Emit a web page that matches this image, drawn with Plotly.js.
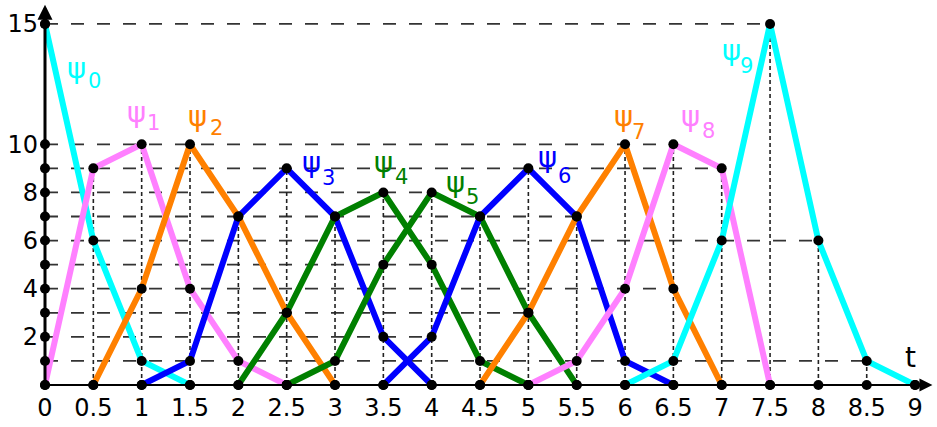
<!DOCTYPE html>
<html>
<head>
<meta charset="utf-8">
<script src="https://cdn.plot.ly/plotly-3.0.1.min.js"></script>
<style>
html,body{margin:0;padding:0;background:#fff;}
#chart{width:937px;height:427px;}
</style>
</head>
<body>
<div id="chart"></div>
<script>
// ---- data ----
const psi0X = [0, 0.5, 1, 1.5];
const psi0Y = [15, 6, 1, 0];
const psi1X = [0, 0.5, 1, 1.5, 2, 2.5];
const psi1Y = [0, 9, 10, 4, 1, 0];
const psi2X = [0.5, 1, 1.5, 2, 2.5, 3];
const psi2Y = [0, 4, 10, 7, 3, 0];
const psi3X = [1, 1.5, 2, 2.5, 3, 3.5, 4];
const psi3Y = [0, 1, 7, 9, 7, 2, 0];
const psi4X = [2, 2.5, 3, 3.5, 4, 4.5, 5];
const psi4Y = [0, 3, 7, 8, 5, 1, 0];
const psi5X = [2.5, 3, 3.5, 4, 4.5, 5, 5.5];
const psi5Y = [0, 1, 5, 8, 7, 3, 0];
const psi6X = [3.5, 4, 4.5, 5, 5.5, 6, 6.5];
const psi6Y = [0, 2, 7, 9, 7, 1, 0];
const psi7X = [4.5, 5, 5.5, 6, 6.5, 7];
const psi7Y = [0, 3, 7, 10, 4, 0];
const psi8X = [5, 5.5, 6, 6.5, 7, 7.5];
const psi8Y = [0, 1, 4, 10, 9, 0];
const psi9X = [6, 6.5, 7, 7.5, 8, 8.5, 9];
const psi9Y = [0, 1, 6, 15, 6, 1, 0];

const seriesNames = ['ψ0','ψ1','ψ2','ψ3','ψ4','ψ5','ψ6','ψ7','ψ8','ψ9'];
const subscripts = ['0','1','2','3','4','5','6','7','8','9'];

const xTickVals = [0, 0.5, 1, 1.5, 2, 2.5, 3, 3.5, 4, 4.5, 5, 5.5, 6, 6.5, 7, 7.5, 8, 8.5, 9];
const xTickText = ['0','0.5','1','1.5','2','2.5','3','3.5','4','4.5','5','5.5','6','6.5','7','7.5','8','8.5','9'];
const yTickVals = [2, 4, 6, 8, 10, 15];
const yTickText = ['2','4','6','8','10','15'];

// ---- styles / layout config ----
const colors = ['#00ffff','#ff80ff','#ff8000','#0000ff','#008000','#008000','#0000ff','#ff8000','#ff80ff','#00ffff'];
// label placement (psi glyph centre, subscript centre) in data units
const labelAt = [
  [0.33,13.17, 0.51,12.63],
  [0.95,11.34, 1.12,10.88],
  [1.58,11.18, 1.77,10.68],
  [2.76,9.26, 2.93,8.60],
  [3.50,9.26, 3.69,8.64],
  [4.25,8.43, 4.42,7.79],
  [5.20,9.47, 5.37,8.70],
  [5.98,11.18, 6.14,10.53],
  [6.68,11.18, 6.86,10.57],
  [7.10,13.92, 7.26,13.27]
];

const X = [psi0X,psi1X,psi2X,psi3X,psi4X,psi5X,psi6X,psi7X,psi8X,psi9X];
const Y = [psi0Y,psi1Y,psi2Y,psi3Y,psi4Y,psi5Y,psi6Y,psi7Y,psi8Y,psi9Y];

// reference lines derived from the data points
const pts = [];
X.forEach((xs, k) => xs.forEach((x, i) => pts.push([x, Y[k][i]])));
const yLevels = [...new Set(pts.map(p => p[1]).filter(v => v > 0))].sort((a,b)=>a-b);
const xLevels = [...new Set(pts.map(p => p[0]).filter(v => v > 0))].sort((a,b)=>a-b);

const hx = [], hy = [];
yLevels.forEach(lv => {
  const mx = Math.max(...pts.filter(p => p[1] === lv).map(p => p[0]));
  hx.push(0, mx, null); hy.push(lv, lv, null);
});
const vx = [], vy = [];
xLevels.forEach(xv => {
  const my = Math.max(...pts.filter(p => p[0] === xv).map(p => p[1]));
  if (my > 0) { vx.push(xv, xv, null); vy.push(0, my, null); }
});

const traces = [];
traces.push({x: hx, y: hy, mode: 'lines', line: {color: '#333', width: 1.8, dash: '13px,13px'}, hoverinfo: 'skip', showlegend: false});
traces.push({x: vx, y: vy, mode: 'lines', line: {color: '#222', width: 1.6, dash: '4px,3px'}, hoverinfo: 'skip', showlegend: false});

X.forEach((xs, k) => {
  traces.push({x: xs, y: Y[k], name: seriesNames[k], mode: 'lines',
    line: {color: colors[k], width: 6}, showlegend: false});
});

// dots: all series points + axis points
const dx = [], dy = [];
pts.forEach(p => { dx.push(p[0]); dy.push(p[1]); });
xTickVals.forEach(v => { dx.push(v); dy.push(0); });
yLevels.forEach(v => { dx.push(0); dy.push(v); });
traces.push({x: dx, y: dy, mode: 'markers', marker: {color: '#000', size: 10}, cliponaxis: false, hoverinfo: 'skip', showlegend: false});

const FONT = 'DejaVu Sans, Verdana, sans-serif';
const annotations = [];
labelAt.forEach((a, k) => {
  annotations.push({x: a[0], y: a[1], xref: 'x', yref: 'y', text: 'ψ', showarrow: false,
    font: {family: FONT, size: 29, color: colors[k]}, xanchor: 'center', yanchor: 'middle'});
  annotations.push({x: a[2], y: a[3], xref: 'x', yref: 'y', text: subscripts[k], showarrow: false,
    font: {family: FONT, size: 21, color: colors[k]}, xanchor: 'center', yanchor: 'middle'});
});
annotations.push({x: 8.95, y: 1.16, xref: 'x', yref: 'y', text: 't', showarrow: false,
  font: {family: FONT, size: 28, color: '#000'}, xanchor: 'center', yanchor: 'middle'});
// axes with arrow heads
annotations.push({x: 0, y: 15.8, xref: 'x', yref: 'y', ax: 0, ay: 0, axref: 'x', ayref: 'y',
  text: '', showarrow: true, arrowhead: 2, arrowsize: 1, arrowwidth: 3, arrowcolor: '#000', standoff: 0});
annotations.push({x: 9.18, y: 0, xref: 'x', yref: 'y', ax: 0, ay: 0, axref: 'x', ayref: 'y',
  text: '', showarrow: true, arrowhead: 2, arrowsize: 1.3, arrowwidth: 2, arrowcolor: '#000', standoff: 0});

const layout = {
  width: 937, height: 427,
  margin: {l: 45, r: 0, t: 0, b: 42, pad: 0},
  paper_bgcolor: '#fff', plot_bgcolor: '#fff',
  showlegend: false,
  xaxis: {range: [0, 9.227], showline: false, showgrid: false, zeroline: false, ticks: '',
    tickvals: xTickVals, ticktext: xTickText, tickfont: {family: FONT, size: 24, color: '#000'},
    ticklabelstandoff: 6, automargin: false, fixedrange: true},
  yaxis: {range: [0, 15.995], showline: false, showgrid: false, zeroline: false, ticks: '',
    tickvals: yTickVals, ticktext: yTickText, tickfont: {family: FONT, size: 24, color: '#000'},
    ticklabelstandoff: 6, automargin: false, fixedrange: true},
  annotations: annotations
};

Plotly.newPlot('chart', traces, layout, {staticPlot: true, displayModeBar: false});
</script>
</body>
</html>
